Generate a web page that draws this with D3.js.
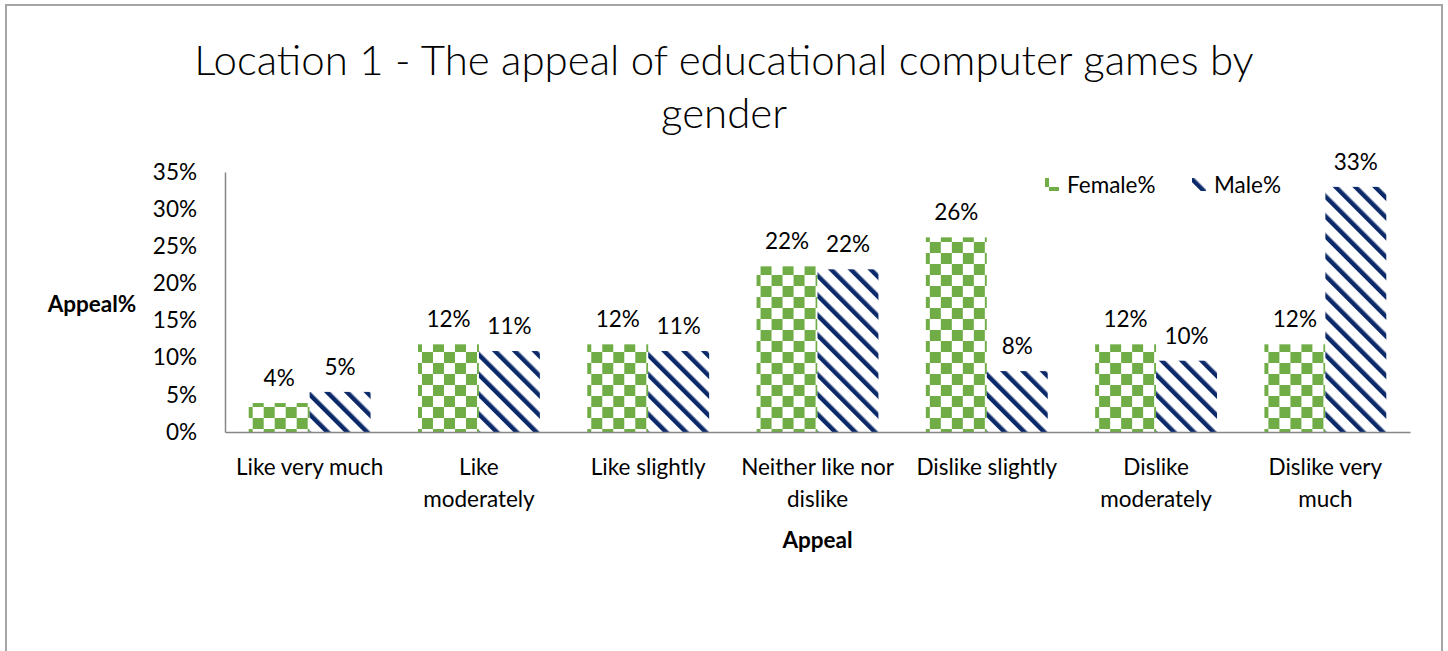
<!DOCTYPE html>
<html><head><meta charset="utf-8">
<script src="https://cdn.jsdelivr.net/npm/d3@7"></script>
<style>body{margin:0;background:#fff;} svg{display:block;} text{font-family:Lato,"Open Sans",sans-serif;fill:#000;}</style>
</head><body>
<svg id="chart" width="1448" height="651"></svg>
<script>
const categories = [["Like very much"],["Like","moderately"],["Like slightly"],["Neither like nor","dislike"],["Dislike slightly"],["Dislike","moderately"],["Dislike very","much"]];
const female = [0.039, 0.118, 0.118, 0.223, 0.262, 0.118, 0.118];
const male = [0.054, 0.109, 0.109, 0.219, 0.082, 0.096, 0.330];
const series = ["Female%", "Male%"];
const yTicks = [0, 0.05, 0.10, 0.15, 0.20, 0.25, 0.30, 0.35];
const titleLines = ["Location 1 - The appeal of educational computer games by", "gender"];

(function(){
const svg = d3.select("#chart");
const pLeft = 225, pRight = 1410, pTop = 172, pBottom = 432;
const fs = "22.5px";

const defs = svg.append("defs");
const green = "#70ad47", navy = "#0c2a6a";
const pc = defs.append("pattern").attr("id","checker").attr("patternUnits","userSpaceOnUse")
  .attr("width",22).attr("height",22).attr("x",4).attr("y",0);
pc.append("rect").attr("width",22).attr("height",22).attr("fill","#fff");
pc.append("rect").attr("width",11).attr("height",11).attr("fill",green);
pc.append("rect").attr("x",11).attr("y",11).attr("width",11).attr("height",11).attr("fill",green);
const ps = defs.append("pattern").attr("id","stripes").attr("patternUnits","userSpaceOnUse")
  .attr("width",14).attr("height",14).attr("patternTransform","rotate(-45)");
ps.append("rect").attr("width",14).attr("height",14).attr("fill","#fff");
ps.append("rect").attr("width",4.5).attr("height",14).attr("fill",navy);
const fills = ["url(#checker)","url(#stripes)"];

svg.append("rect").attr("x",6).attr("y",5).attr("width",1436).attr("height",700)
  .attr("fill","none").attr("stroke","#a6a6a6").attr("stroke-width",2);

svg.selectAll("text.title").data(titleLines).join("text").attr("class","title")
  .attr("x",724).attr("y",(d,i)=>75+i*53).attr("text-anchor","middle")
  .style("font-size","42px").style("font-weight",300).text(d=>d);

const x = d3.scaleBand().domain(d3.range(categories.length)).range([pLeft,pRight]).paddingInner(0.28).paddingOuter(0.14);
const xs = d3.scaleBand().domain([0,1]).range([0,x.bandwidth()]);
const y = d3.scaleLinear().domain([0,0.35]).range([pBottom,pTop]);

const yAxis = d3.axisLeft(y).tickValues(yTicks).tickFormat(d3.format(".0%")).tickSize(0).tickPadding(28);
const gy = svg.append("g").attr("transform",`translate(${pLeft},0)`).call(yAxis);
gy.select(".domain").attr("stroke","#868686").attr("stroke-width",1.5);
gy.selectAll("text").style("font-size",fs).style("font-family","Lato,sans-serif").attr("fill","#000");

const data = categories.map((c,i)=>({i, vals:[female[i], male[i]]}));
const g = svg.append("g");
const groups = g.selectAll("g").data(data).join("g").attr("transform",d=>`translate(${x(d.i)},0)`);
groups.selectAll("rect").data(d=>d.vals.map((v,k)=>({v,k}))).join("rect")
  .attr("x",d=>xs(d.k)).attr("width",xs.bandwidth())
  .attr("y",d=>y(d.v)).attr("height",d=>pBottom-y(d.v)).attr("fill",d=>fills[d.k]);
groups.selectAll("text").data(d=>d.vals.map((v,k)=>({v,k}))).join("text")
  .attr("x",d=>xs(d.k)+xs.bandwidth()/2).attr("y",d=>y(d.v)-17).attr("text-anchor","middle")
  .style("font-size",fs).text(d=>d3.format(".0%")(d.v));

const xAxis = d3.axisBottom(x).tickSize(0).tickFormat("");
const gx = svg.append("g").attr("transform",`translate(0,${pBottom})`).call(xAxis);
gx.select(".domain").attr("stroke","#868686").attr("stroke-width",1.5);
gx.selectAll(".tick").each(function(d){
  const t = d3.select(this).append("text").attr("text-anchor","middle").style("font-size",fs);
  categories[d].forEach((line,j)=>t.append("tspan").attr("x",0).attr("y",43+j*32).text(line));
});

svg.append("text").attr("x",(pLeft+pRight)/2).attr("y",548).attr("text-anchor","middle")
  .style("font-size",fs).style("font-weight","bold").text("Appeal");
svg.append("text").attr("x",92).attr("y",312).attr("text-anchor","middle")
  .style("font-size",fs).style("font-weight","bold").text("Appeal%");

const lx = [1045, 1192];
series.forEach((s,k)=>{
  svg.append("rect").attr("x",lx[k]).attr("y",178).attr("width",14).attr("height",13).attr("fill",fills[k]);
  svg.append("text").attr("x",lx[k]+22).attr("y",193).style("font-size",fs).text(s);
});
})();
</script>
</body></html>
